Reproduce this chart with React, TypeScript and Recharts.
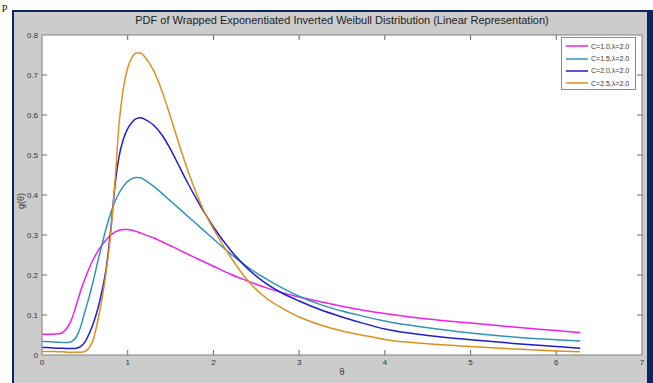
import React from 'react';
import { LineChart, Line, XAxis, YAxis, CartesianGrid, ReferenceLine } from 'recharts';

const thetaValues = [0, 0.1, 0.2, 0.25, 0.3, 0.35, 0.4, 0.45, 0.5, 0.55, 0.6, 0.65, 0.7, 0.75, 0.8, 0.85, 0.9, 0.95, 1.0, 1.05, 1.1, 1.15, 1.2, 1.3, 1.4, 1.5, 1.6, 1.7, 1.8, 1.9, 2.0, 2.2, 2.4, 2.6, 2.8, 3.0, 3.25, 3.5, 3.75, 4.0, 4.5, 5.0, 5.5, 6.0, 6.28];

const c10Values = [0.052, 0.052, 0.053, 0.058, 0.07, 0.092, 0.125, 0.16, 0.19, 0.217, 0.24, 0.259, 0.275, 0.288, 0.299, 0.307, 0.312, 0.314, 0.314, 0.312, 0.309, 0.305, 0.301, 0.293, 0.283, 0.273, 0.263, 0.252, 0.242, 0.232, 0.222, 0.202, 0.185, 0.169, 0.156, 0.145, 0.133, 0.122, 0.112, 0.104, 0.09, 0.08, 0.07, 0.061, 0.056];

const c15Values = [0.034, 0.033, 0.032, 0.031, 0.031, 0.034, 0.045, 0.07, 0.108, 0.145, 0.187, 0.233, 0.276, 0.318, 0.354, 0.383, 0.405, 0.422, 0.434, 0.441, 0.444, 0.443, 0.437, 0.422, 0.404, 0.385, 0.366, 0.347, 0.328, 0.309, 0.29, 0.253, 0.22, 0.192, 0.168, 0.147, 0.126, 0.11, 0.097, 0.085, 0.068, 0.055, 0.045, 0.038, 0.035];

const c20Values = [0.019, 0.018, 0.017, 0.017, 0.016, 0.016, 0.017, 0.021, 0.032, 0.053, 0.08, 0.115, 0.16, 0.218, 0.31, 0.42, 0.497, 0.54, 0.566, 0.582, 0.591, 0.593, 0.589, 0.575, 0.55, 0.514, 0.472, 0.43, 0.391, 0.354, 0.32, 0.262, 0.216, 0.181, 0.155, 0.135, 0.113, 0.095, 0.079, 0.065, 0.049, 0.038, 0.029, 0.021, 0.017];

const c25Values = [0.009, 0.009, 0.008, 0.008, 0.007, 0.007, 0.007, 0.007, 0.009, 0.018, 0.04, 0.085, 0.14, 0.21, 0.3, 0.43, 0.58, 0.668, 0.718, 0.744, 0.755, 0.755, 0.745, 0.712, 0.66, 0.595, 0.526, 0.462, 0.405, 0.355, 0.315, 0.245, 0.186, 0.145, 0.117, 0.095, 0.075, 0.06, 0.049, 0.039, 0.028, 0.021, 0.015, 0.01, 0.008];

const seriesKeys = ['c10', 'c15', 'c20', 'c25'];
const seriesNames = ['C=1.0,\u03bb=2.0', 'C=1.5,\u03bb=2.0', 'C=2.0,\u03bb=2.0', 'C=2.5,\u03bb=2.0'];
const seriesColors = ['#ee20ee', '#3293b8', '#1e1ed2', '#e0901f'];
const seriesValues = [c10Values, c15Values, c20Values, c25Values];

const xTicks = [0, 1, 2, 3, 4, 5, 6, 7];
const yTicks = [0, 0.1, 0.2, 0.3, 0.4, 0.5, 0.6, 0.7, 0.8];
const yTickLabels = ['0', '0.1', '0.2', '0.3', '0.4', '0.5', '0.6', '0.7', '0.8'];
const X_DOMAIN = [0, 7];
const Y_DOMAIN = [0, 0.8];

const titleText = 'PDF of Wrapped Exponentiated Inverted Weibull Distribution (Linear Representation)';
const xLabel = '\u03b8';
const yLabel = 'g(\u03b8)';

const data = thetaValues.map((t, i) => {
  const row: Record<string, number> = { t };
  seriesKeys.forEach((k, j) => {
    row[k] = seriesValues[j][i];
  });
  return row;
});

// tick-mark lengths expressed in data units (about 5px on each axis)
const xTickLen = 0.0125;
const yTickLen = 0.058;

const FONT = '"Liberation Sans", Arial, Helvetica, sans-serif';
const AXIS = '#808080';
const TICK = '#666666';
const tickStyle = { fontSize: 8, fill: '#333', fontFamily: FONT };

export default function App() {
  const innerX = xTicks.filter((t) => t > X_DOMAIN[0] && t < X_DOMAIN[1]);
  const innerY = yTicks.filter((v) => v > Y_DOMAIN[0] && v < Y_DOMAIN[1]);
  return (
    <div style={{ position: 'absolute', left: 0, top: 0, width: 653, height: 383, background: '#fff', overflow: 'hidden' }}>
      <div style={{ position: 'absolute', left: 2, top: 0, fontFamily: '"Liberation Serif", serif', fontSize: 11, lineHeight: 'normal', color: '#000' }}>p</div>
      <div
        style={{
          position: 'absolute', left: 12, top: 10, width: 641, height: 390, boxSizing: 'border-box',
          background: '#cccccc', borderLeft: '2px solid #0b2466', borderTop: '2px solid #0b2466', borderRight: '6px solid #0b2466',
        }}
      />
      <div style={{ position: 'absolute', left: 0, top: 0 }}>
        <LineChart width={653} height={383} data={data} margin={{ top: 34, right: 10, bottom: 0, left: 0 }}>
          <CartesianGrid fill="#ffffff" stroke="none" horizontal={false} vertical={false} />
          <XAxis
            dataKey="t" type="number" domain={X_DOMAIN} ticks={xTicks} height={28}
            stroke={AXIS} tickLine={false} tickSize={-5} tickMargin={9} tick={tickStyle} interval={0} allowDataOverflow
          />
          <XAxis
            xAxisId="top" orientation="top" dataKey="t" type="number" domain={X_DOMAIN} ticks={xTicks} height={1}
            stroke={AXIS} tickLine={false} tick={false} interval={0}
          />
          <YAxis
            type="number" domain={Y_DOMAIN} ticks={yTicks} width={42} stroke={AXIS} tickLine={false} tickSize={-5} tickMargin={9}
            tick={tickStyle} interval={0} tickFormatter={(v: number) => yTickLabels[yTicks.indexOf(v)] ?? String(v)}
            allowDataOverflow
          />
          <YAxis
            yAxisId="right" orientation="right" type="number" domain={Y_DOMAIN} ticks={yTicks} width={1}
            stroke={AXIS} tickLine={false} tick={false} interval={0}
          />
          {innerX.map((t) => (
            <ReferenceLine key={'xb' + t} segment={[{ x: t, y: Y_DOMAIN[0] }, { x: t, y: Y_DOMAIN[0] + xTickLen }]} stroke={TICK} ifOverflow="visible" />
          ))}
          {innerX.map((t) => (
            <ReferenceLine key={'xt' + t} segment={[{ x: t, y: Y_DOMAIN[1] }, { x: t, y: Y_DOMAIN[1] - xTickLen }]} stroke={TICK} ifOverflow="visible" />
          ))}
          {innerY.map((v) => (
            <ReferenceLine key={'yl' + v} segment={[{ x: X_DOMAIN[0], y: v }, { x: X_DOMAIN[0] + yTickLen, y: v }]} stroke={TICK} ifOverflow="visible" />
          ))}
          {innerY.map((v) => (
            <ReferenceLine key={'yr' + v} segment={[{ x: X_DOMAIN[1], y: v }, { x: X_DOMAIN[1] - yTickLen, y: v }]} stroke={TICK} ifOverflow="visible" />
          ))}
          {seriesKeys.map((k, j) => (
            <Line
              key={k} dataKey={k} name={seriesNames[j]} type="monotone" stroke={seriesColors[j]} strokeWidth={1.5}
              dot={false} activeDot={false} isAnimationActive={false}
            />
          ))}
        </LineChart>
      </div>
      <div style={{ position: 'absolute', left: 0, top: 14, width: 684, textAlign: 'center', fontFamily: FONT, fontSize: 11, color: '#222' }}>
        {titleText}
      </div>
      <div style={{ position: 'absolute', left: 0, top: 367, width: 684, textAlign: 'center', fontFamily: FONT, fontSize: 9, color: '#333' }}>
        {xLabel}
      </div>
      <div
        style={{
          position: 'absolute', left: 21, top: 201, transform: 'translate(-50%, -50%) rotate(-90deg)',
          fontFamily: FONT, fontSize: 9, color: '#333', whiteSpace: 'nowrap',
        }}
      >
        {yLabel}
      </div>
      <div
        style={{
          position: 'absolute', left: 561, top: 37, width: 75, height: 53, boxSizing: 'border-box',
          border: '1px solid #8a8a8a', background: '#fff', paddingTop: 2,
        }}
      >
        {seriesNames.map((n, j) => (
          <div key={n} style={{ display: 'flex', alignItems: 'center', height: 12.4, marginLeft: 4 }}>
            <svg width={23} height={4} style={{ display: 'block' }}>
              <line x1={0} y1={2} x2={22} y2={2} stroke={seriesColors[j]} strokeWidth={1.5} />
            </svg>
            <span style={{ fontFamily: FONT, fontSize: 7, color: '#333', marginLeft: 2, whiteSpace: 'nowrap' }}>{n}</span>
          </div>
        ))}
      </div>
    </div>
  );
}
